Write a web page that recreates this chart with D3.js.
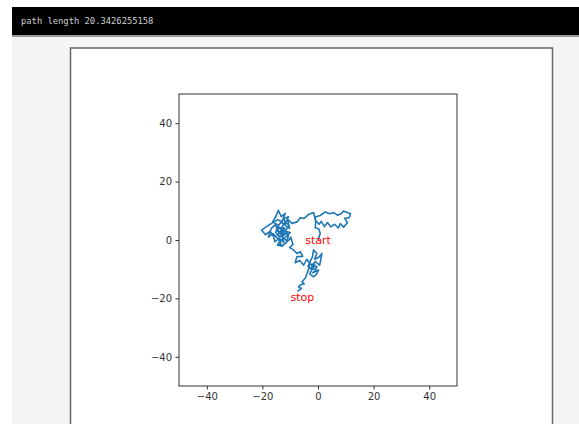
<!DOCTYPE html>
<html>
<head>
<meta charset="utf-8">
<script src="https://cdn.jsdelivr.net/npm/d3@7"></script>
<style>
  body { margin: 0; background: #fff; }
  svg { display: block; }
</style>
</head>
<body>
<script>
// walk coordinates, in data units
const walkX = [
  0, 0.8, 0.3, -1, -0.8, -1.2, 0.8, 2.6, 4.2, 5.6, 7.0, 8.3, 9.2, 10.5, 11.7, 11.2, 9.6, 10.6, 9.2, 8.0,
  7.3, 6.0, 4.6, 3.4, 2.3, 1.2, 0.4, -0.8, -1.6, -3.4, -5.0, -6.4, -7.5, -9.4,
  -11, -10.2, -12.5, -13.1, -11.6, -13.8, -15.2, -14.1, -16.3, -15.0, -14.3, -13.2, -11.8, -12.9, -14.6, -16.7,
  -18.5, -20.3, -18.9, -17.2, -16.0, -15.5, -14.0, -12.3, -13.4, -11.9, -13.6, -15.0, -13.2, -12.1, -10.6, -11.2,
  -12.6, -14.6, -13.0, -14.8, -13.4, -11.8, -12.2, -10.6, -11.6, -10.4, -11.8, -10.0, -11.4, -13.2, -14.6, -13.0,
  -14.2, -16.2, -17.8, -16.8, -15.4, -14.2, -12.4,
  -12.8, -14.4, -13.0, -11.4, -10.2, -9.8, -9.0, -10.2, -8.8, -7.6,
  -6.4, -5.5, -7.6, -8.2, -6.6, -5.2, -4.0, -3.1, -2.0, -1.6, -0.4, -1.2, 0.2, 1.4, 1.0, 0.6, -1.0, -2.2, -1.4,
  -2.6, -1.2, -2.8, -1.8, -0.4, -1.0,
  -1.9, 0.2, -0.6, -1.6, -3.0, -2.2, -3.6, -2.8, -3.6, -4.6, -5.8, -4.9, -6.4, -7.0, -6.0, -7.4
];
const walkY = [
  0, 2.2, 3.8, 4.2, 6.2, 7.8, 8.4, 9.6, 9.0, 9.4, 8.5, 9.0, 9.9, 9.4, 9.0, 7.6, 7.4, 5.9, 4.4, 5.6,
  4.1, 5.4, 4.5, 6.0, 4.6, 6.4, 5.4, 6.6, 9.4, 8.7, 7.4, 7.6, 6.2, 5.7,
  7.2, 4.0, 5.5, 3.2, 2.0, 1.0, 2.6, 5.0, 6.2, 8.3, 10.2, 8.0, 9.1, 6.3, 6.9, 5.7,
  4.6, 3.4, 1.8, 3.0, 1.2, -0.6, 0.6, -0.8, 2.4, 4.1, 4.3, 3.5, 1.8, 3.4, 1.6, -0.4,
  1.0, 1.6, 3.6, 4.4, 6.0, 5.4, 7.4, 8.0, 6.0, 5.0, 3.0, 2.6, 1.2, -0.2, -1.8, -2.0,
  0.2, 2.2, 1.0, 4.0, 5.2, 3.0, 2.6,
  0.4, -1.4, -2.2, -0.8, 0.2, 1.0, -1.5, -2.6, -3.4, -4.6,
  -4.0, -5.6, -5.7, -7.8, -7.0, -8.6, -6.6, -7.8, -5.8, -3.4, -4.6, -6.6, -6.0, -4.6, -6.8, -8.6, -7.4, -8.8, -10.0,
  -9.6, -8.4, -8.2, -9.2, -9.0, -10.6,
  -11.2, -10.3, -11.8, -12.6, -11.6, -10.2, -9.0, -7.4, -10.6, -13.1, -14.3, -15.0, -15.4, -16.0, -16.6, -17.6
];
const tickValues = [-40, -20, 0, 20, 40];
const labelText = ["start", "stop"];
const labelX = [0, -5.6];
const labelY = [0, -19.6];
const headerText = "path length 20.3426255158";

const W = 579, H = 424;
const svg = d3.select("body").append("svg")
  .attr("width", W)
  .attr("height", H);

// page background and header bar
svg.append("rect").attr("x", 12).attr("y", 34).attr("width", W - 12).attr("height", H - 34).attr("fill", "#f5f5f5");
svg.append("rect").attr("x", 12).attr("y", 34).attr("width", W - 12).attr("height", 3).attr("fill", "#9a9a9a");
svg.append("rect").attr("x", 12).attr("y", 7).attr("width", W - 12).attr("height", 28).attr("fill", "#000");
svg.append("text")
  .attr("x", 21)
  .attr("y", 23.5)
  .style("font-family", "DejaVu Sans Mono")
  .style("font-size", "8.8px")
  .attr("fill", "#cfcfcf")
  .text(headerText);

// figure card
svg.append("rect")
  .attr("x", 70.5).attr("y", 48)
  .attr("width", 482).attr("height", 400)
  .attr("fill", "#fff")
  .attr("stroke", "#666")
  .attr("stroke-width", 1.5);

const x = d3.scaleLinear().domain([-50, 50]).range([179, 457]);
const y = d3.scaleLinear().domain([-50, 50]).range([386, 94]);

const pts = walkX.map((d, i) => [d, walkY[i]]);
const line = d3.line().x(d => x(d[0])).y(d => y(d[1]));

svg.append("path")
  .datum(pts)
  .attr("d", line)
  .attr("fill", "none")
  .attr("stroke", "#1f77b4")
  .attr("stroke-width", 1.6)
  .attr("stroke-linejoin", "round");

svg.selectAll("text.lbl")
  .data(labelText)
  .join("text")
  .attr("class", "lbl")
  .attr("x", (d, i) => x(labelX[i]))
  .attr("y", (d, i) => y(labelY[i]))
  .attr("dy", "0.35em")
  .attr("text-anchor", "middle")
  .style("font-family", "DejaVu Sans")
  .style("font-size", "11px")
  .attr("fill", "#ff0000")
  .text(d => d);

const xAxis = svg.append("g")
  .attr("transform", "translate(0,386)")
  .call(d3.axisBottom(x).tickValues(tickValues).tickSize(3.5).tickPadding(3.5));
const yAxis = svg.append("g")
  .attr("transform", "translate(179,0)")
  .call(d3.axisLeft(y).tickValues(tickValues).tickSize(3.5).tickPadding(3.5));

[xAxis, yAxis].forEach(g => {
  g.select(".domain").remove();
  g.selectAll("line").attr("stroke", "#333");
  g.selectAll("text")
    .style("font-family", "DejaVu Sans")
    .style("font-size", "10px")
    .attr("fill", "#333");
});

// frame of the axes
svg.append("rect")
  .attr("x", 179).attr("y", 94)
  .attr("width", 278).attr("height", 292)
  .attr("fill", "none")
  .attr("stroke", "#333")
  .attr("stroke-width", 1);
</script>
</body>
</html>
